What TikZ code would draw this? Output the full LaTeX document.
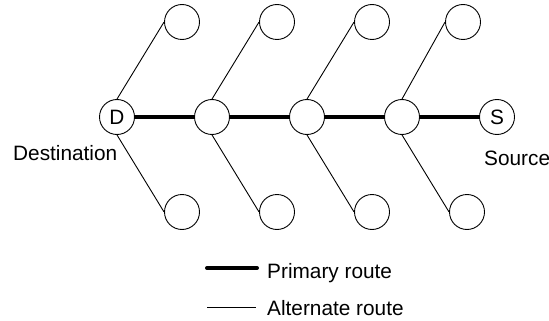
\documentclass[tikz,border=0pt]{standalone}
\usepackage{fontspec}
\setmainfont{Liberation Sans}
\begin{document}
\begin{tikzpicture}[x=1pt,y=-1pt,
  hop/.style={circle,draw,line width=0.9pt,minimum size=35pt,inner sep=0pt,
    font=\fontsize{20.8}{24}\selectfont},
  primary/.style={line width=4pt},
  alternate/.style={line width=0.9pt},
  lbl/.style={inner sep=0pt,anchor=base west,font=\fontsize{20.8}{24}\selectfont}]
\useasboundingbox (0,0) rectangle (549,321);

% primary path nodes
\node[hop] (d)  at (117,117) {D};
\node[hop] (p1) at (212,117) {};
\node[hop] (p2) at (307,117) {};
\node[hop] (p3) at (402,117) {};
\node[hop] (s)  at (497,117) {S};

% alternate neighbours above and below
\node[hop] (t0) at (182,22) {};
\node[hop] (t1) at (277,22) {};
\node[hop] (t2) at (372,22) {};
\node[hop] (t3) at (463,22) {};
\node[hop] (b0) at (182,212) {};
\node[hop] (b1) at (277,212) {};
\node[hop] (b2) at (372,212) {};
\node[hop] (b3) at (467,212) {};

% primary route
\draw[primary] (d.east) -- (p1.west);
\draw[primary] (p1.east) -- (p2.west);
\draw[primary] (p2.east) -- (p3.west);
\draw[primary] (p3.east) -- (s.west);

% alternate routes
\foreach \a/\i in {d/0,p1/1,p2/2,p3/3}{
  \draw[alternate] (\a.north) -- (t\i.west);
  \draw[alternate] (\a.south) -- (b\i.west);
}

% labels
\node[lbl] (dl) at (13,160) {Destination};
\node[lbl] (sl) at (484,165) {Source};

% legend
\coordinate (pa) at (207,268);
\coordinate (pb) at (257,268);
\coordinate (aa) at (207,307);
\coordinate (ab) at (256,307);
\draw[primary,line cap=round] (pa) -- (pb);
\draw[alternate] (aa) -- (ab);
\node[lbl] (pl) at (267,278) {Primary route};
\node[lbl] (al) at (267,315) {Alternate route};
\end{tikzpicture}
\end{document}
